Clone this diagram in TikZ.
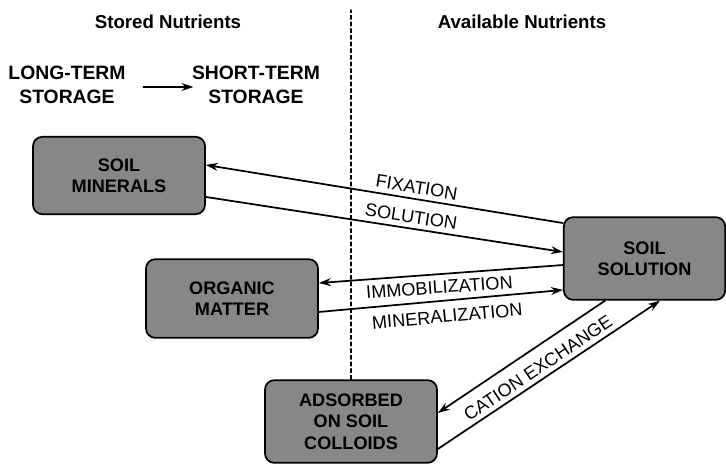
\documentclass[tikz,border=0pt]{standalone}
\usepackage{fontspec}
\setmainfont{Liberation Sans}
\usetikzlibrary{arrows.meta}
\begin{document}
\begin{tikzpicture}[x=0.75pt, y=-0.75pt, font=\fontsize{13.6}{15}\selectfont, line join=round, line cap=round, >={Stealth[length=9pt,width=6pt]},
	pool/.style={draw, line width=1.3pt, rounded corners=7pt, fill=black!47, align=center, inner sep=0pt, minimum width=129pt, font=\fontsize{13.6}{16}\selectfont\bfseries},
	head/.style={font=\fontsize{14}{17}\selectfont\bfseries, align=center},
	flow/.style={->, line width=1.3pt}]
	\useasboundingbox (0,0) rectangle (726,464);

	\node[head] (stored) at (168,22) {Stored Nutrients};
	\node[head] (avail) at (522,22) {Available Nutrients};
	\node[head, font=\fontsize{14.5}{18}\selectfont\bfseries] (LT) at (67,85) {LONG-TERM\\STORAGE};
	\node[head, font=\fontsize{14.5}{18}\selectfont\bfseries] (ST) at (256,85) {SHORT-TERM\\STORAGE};

	\node[pool, minimum height=58pt] (SM) at (119,175.5) {SOIL\\MINERALS};
	\node[pool, minimum height=59pt] (OM) at (232,298.5) {ORGANIC\\MATTER};
	\node[pool, minimum height=62pt] (AD) at (351,421.5) {ADSORBED\\ON SOIL\\COLLOIDS};
	\node[pool, minimum height=62pt, minimum width=121pt] (SS) at (644.5,258.5) {SOIL\\SOLUTION};

	\draw[dash pattern=on 3pt off 2pt, line width=.8pt] (AD.north) -- (AD.north |- 0,10);
	\draw[->, line width=.9pt] ([xshift=9.75pt,yshift=-1.5pt]LT.east) -- ([xshift=4.5pt,yshift=-1.5pt]ST.west);

	\draw[flow, <-] ([yshift=7.9pt]SM.east) -- node[sloped, above, pos=.585]{FIXATION} ([yshift=26.6pt]SS.west);
	\draw[flow] ([yshift=-16.1pt]SM.east) -- node[sloped, above, pos=.57]{SOLUTION} ([yshift=4.9pt]SS.west);
	\draw[flow, <-] ([yshift=11.6pt]OM.east) -- node[sloped, below=1pt, pos=.49]{IMMOBILIZATION} ([yshift=-4.9pt]SS.west);
	\draw[flow] ([yshift=-10.1pt]OM.east) -- node[sloped, below=3pt, pos=.52]{MINERALIZATION} ([yshift=-23.6pt]SS.west);
	\draw[flow, <-] ([yshift=6.4pt]AD.east) -- ([xshift=-29.6pt]SS.south);
	\draw[flow] ([yshift=-20.6pt]AD.east) -- node[sloped, above, pos=.48]{CATION EXCHANGE} ([xshift=11.6pt]SS.south);
\end{tikzpicture}
\end{document}
